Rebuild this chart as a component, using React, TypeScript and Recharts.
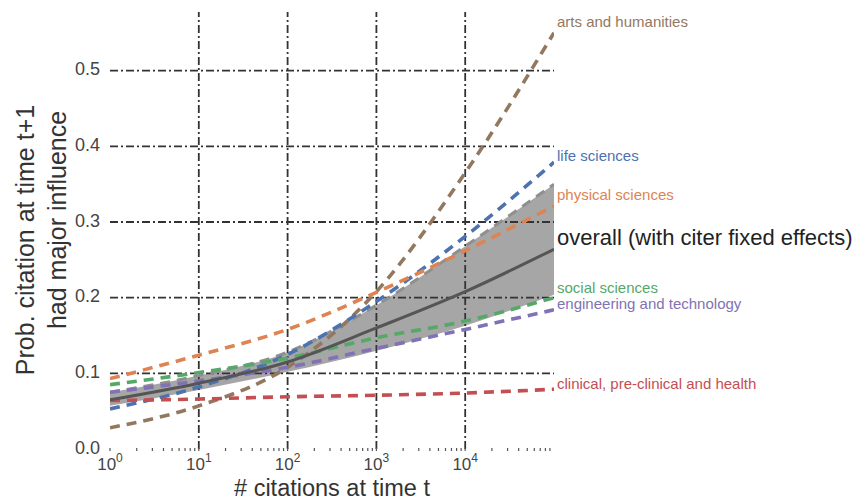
import { ComposedChart, Line, Area, XAxis, YAxis, ReferenceLine, Label } from 'recharts'

const FONT = '"Liberation Sans", Arial, Helvetica, sans-serif'

// citations at time t (log scale, one point per decade)
const xs = [1, 10, 100, 1000, 10000, 100000]

const arts = [0.028, 0.057, 0.108, 0.208, 0.365, 0.55]
const life = [0.053, 0.082, 0.125, 0.195, 0.281, 0.379]
const physical = [0.093, 0.124, 0.158, 0.207, 0.262, 0.321]
const social = [0.085, 0.101, 0.12, 0.147, 0.169, 0.2]
const engineering = [0.075, 0.09, 0.108, 0.133, 0.158, 0.184]
const clinical = [0.064, 0.066, 0.069, 0.071, 0.074, 0.079]
const overall = [0.065, 0.087, 0.115, 0.16, 0.208, 0.264]
const bandLow = [0.057, 0.078, 0.102, 0.13, 0.163, 0.204]
const bandHigh = [0.075, 0.097, 0.128, 0.19, 0.268, 0.35]

const yTicks = [0, 0.1, 0.2, 0.3, 0.4, 0.5]
const yGrid = [0.1, 0.2, 0.3, 0.4, 0.5]
const xMajor = [1, 10, 100, 1000, 10000]
const xGrid = [10, 100, 1000, 10000]
const xMinor = [1, 10, 100, 1000, 10000].flatMap(d => [2, 3, 4, 5, 6, 7, 8, 9].map(m => m * d))

const series = [
  { key: 'arts', name: 'arts and humanities', color: '#937860', dy: -10 },
  { key: 'life', name: 'life sciences', color: '#4c72b0', dy: -5 },
  { key: 'physical', name: 'physical sciences', color: '#dd8452', dy: -10 },
  { key: 'social', name: 'social sciences', color: '#55a868', dy: -9 },
  { key: 'engineering', name: 'engineering and technology', color: '#8172b3', dy: -5 },
  { key: 'clinical', name: 'clinical, pre-clinical and health', color: '#c44e52', dy: -4 },
]

const data = xs.map((x, i) => ({
  x,
  arts: arts[i],
  life: life[i],
  physical: physical[i],
  social: social[i],
  engineering: engineering[i],
  clinical: clinical[i],
  overall: overall[i],
  bandHigh: bandHigh[i],
  band: [bandLow[i], bandHigh[i]],
}))

const last = xs.length - 1

const endLabel = (text: string, color: string, dy: number, size = 15) => (props: any) => {
  if (props.index !== last) return <g />
  return (
    <text x={props.x + 3} y={props.y + dy} fill={color} fontSize={size} fontFamily={FONT} dominantBaseline="middle">
      {text}
    </text>
  )
}

const XTick = ({ x, y, payload }: any) => {
  const v = payload.value
  const e = Math.round(Math.log10(v))
  const major = Math.abs(v - Math.pow(10, e)) < 1e-6
  return (
    <g>
      <line x1={x} x2={x} y1={y - 1} y2={y + 2} stroke="#555" strokeWidth={1.2} />
      {major && (
        <text x={x} y={y + 21} textAnchor="middle" fill="#444" fontFamily={FONT} fontSize={17}>
          10<tspan dy={-8} fontSize={12}>{e}</tspan>
        </text>
      )}
    </g>
  )
}

const YTick = ({ x, y, payload }: any) => (
  <text x={x} y={y} textAnchor="end" dominantBaseline="middle" fill="#444" fontFamily={FONT} fontSize={18}>
    {payload.value.toFixed(1)}
  </text>
)

const YTitle = () => (
  <g fontFamily={FONT} fontSize={25} fill="#333">
    <text transform="translate(34,240) rotate(-90)" textAnchor="middle">Prob. citation at time t+1</text>
    <text transform="translate(66,220) rotate(-90)" textAnchor="middle">had major influence</text>
  </g>
)

const XTitle = () => (
  <text x={332} y={496} textAnchor="middle" fontFamily={FONT} fontSize={23.5} fill="#333">
    # citations at time t
  </text>
)

const GRID = { stroke: '#333', strokeWidth: 1.8, strokeDasharray: '8 3 2 3' }

export default function App() {
  return (
    <div style={{ position: 'absolute', left: 0, top: 0, background: '#fff' }}>
      <ComposedChart width={854} height={502} data={data} margin={{ top: 12, right: 300, bottom: 0, left: 0 }}>
        <XAxis
          dataKey="x"
          type="number"
          scale="log"
          domain={[1, 100000]}
          ticks={[...xMajor, ...xMinor]}
          tick={<XTick />}
          tickLine={false}
          axisLine={false}
          tickSize={0}
          tickMargin={0}
          height={53}
          interval={0}
          allowDataOverflow
        >
          <Label content={<XTitle />} />
        </XAxis>
        <YAxis
          type="number"
          domain={[0, 0.5775]}
          ticks={yTicks}
          tick={<YTick />}
          tickLine={false}
          axisLine={false}
          width={110}
          tickSize={0}
          tickMargin={10}
          interval={0}
          allowDataOverflow
        >
          <Label content={<YTitle />} />
        </YAxis>
        {yGrid.map(v => <ReferenceLine key={'h' + v} y={v} {...GRID} />)}
        {xGrid.map(v => <ReferenceLine key={'v' + v} x={v} {...GRID} />)}
        <Area dataKey="band" type="monotone" fill="#a6a6a6" fillOpacity={1} stroke="none" isAnimationActive={false} />
        <Line dataKey="bandHigh" type="monotone" stroke="#8f8f8f" strokeWidth={3} strokeDasharray="10 7" dot={false} isAnimationActive={false} />
        {series.map(s => (
          <Line
            key={s.key}
            dataKey={s.key}
            type="monotone"
            stroke={s.color}
            strokeWidth={3.6}
            strokeDasharray="10 7"
            dot={false}
            isAnimationActive={false}
            label={endLabel(s.name, s.color, s.dy)}
          />
        ))}
        <Line
          dataKey="overall"
          type="monotone"
          stroke="#555"
          strokeWidth={3}
          dot={false}
          isAnimationActive={false}
          label={endLabel('overall (with citer fixed effects)', '#222', -10, 22)}
        />
      </ComposedChart>
    </div>
  )
}
